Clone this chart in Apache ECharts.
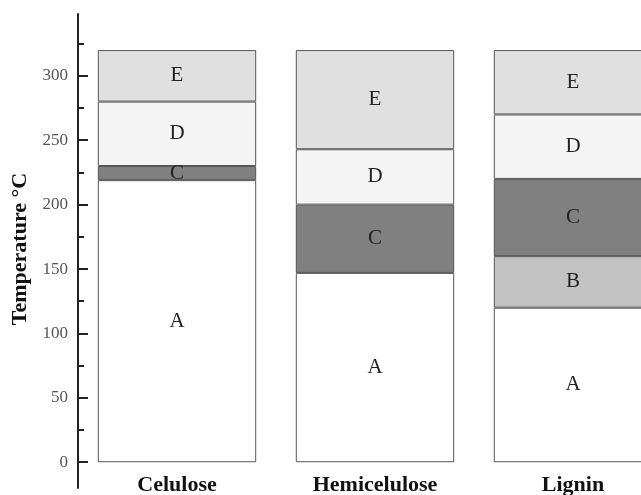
<!DOCTYPE html>
<html>
<head>
<meta charset="utf-8">
<script src="https://cdn.jsdelivr.net/npm/echarts@6/dist/echarts.min.js"></script>
<style>html,body{margin:0;padding:0;background:#fff}#c{width:641px;height:495px}</style>
</head>
<body>
<div id="c"></div>
<script>
const categories = ['Celulose', 'Hemicelulose', 'Lignin'];
const stageNames = ['A', 'B', 'C', 'D', 'E'];
const valuesA = [219, 147, 120];
const valuesB = [null, null, 40];
const valuesC = [11, 53, 60];
const valuesD = [50, 43, 50];
const valuesE = [40, 77, 50];
const majorTicks = [0, 50, 100, 150, 200, 250, 300];
const minorTicks = [25, 75, 125, 175, 225, 275, 325];

const stageValues = [valuesA, valuesB, valuesC, valuesD, valuesE];
const stageColors = ['#ffffff', '#c2c2c2', '#808080', '#f4f4f4', '#e0e0e0'];
const serif = 'Liberation Serif';

const chart = echarts.init(document.getElementById('c'), null, {renderer: 'canvas'});
chart.setOption({
  animation: false,
  backgroundColor: '#ffffff',
  grid: {left: 78, right: -31, top: 14, bottom: 7, containLabel: false, outerBoundsMode: 'none'},
  xAxis: {
    type: 'category',
    data: categories,
    offset: -25,
    axisLine: {show: false, onZero: false},
    axisTick: {show: false},
    axisLabel: {margin: 11, fontFamily: serif, fontSize: 22, fontWeight: 'bold', color: '#111'}
  },
  yAxis: [{
    type: 'value',
    min: -20, max: 348,
    name: 'Temperature \u00B0C',
    nameLocation: 'middle',
    nameGap: 46,
    nameTextStyle: {fontFamily: serif, fontSize: 22, fontWeight: 'bold', color: '#111', padding: [0, 0, 0, 4]},
    splitLine: {show: false},
    axisLine: {show: true, lineStyle: {color: '#222', width: 2}},
    axisTick: {show: true, inside: true, length: 10, lineStyle: {color: '#222', width: 2}, customValues: majorTicks},
    axisLabel: {margin: 10, fontFamily: serif, fontSize: 17, color: '#555', customValues: majorTicks}
  }, {
    type: 'value',
    position: 'left',
    min: -20, max: 348,
    splitLine: {show: false},
    axisLine: {show: false},
    axisTick: {show: true, inside: true, length: 6, lineStyle: {color: '#222', width: 2}, customValues: minorTicks},
    axisLabel: {show: false}
  }],
  series: stageNames.map((name, i) => ({
    name: name,
    type: 'bar',
    stack: 'total',
    yAxisIndex: 0,
    barWidth: '80%',
    data: stageValues[i],
    itemStyle: {color: stageColors[i], borderColor: '#555', borderWidth: 1},
    label: {
      show: true,
      position: 'inside',
      formatter: name,
      fontFamily: serif,
      fontSize: 21,
      color: '#222'
    }
  }))
});
</script>
</body>
</html>
